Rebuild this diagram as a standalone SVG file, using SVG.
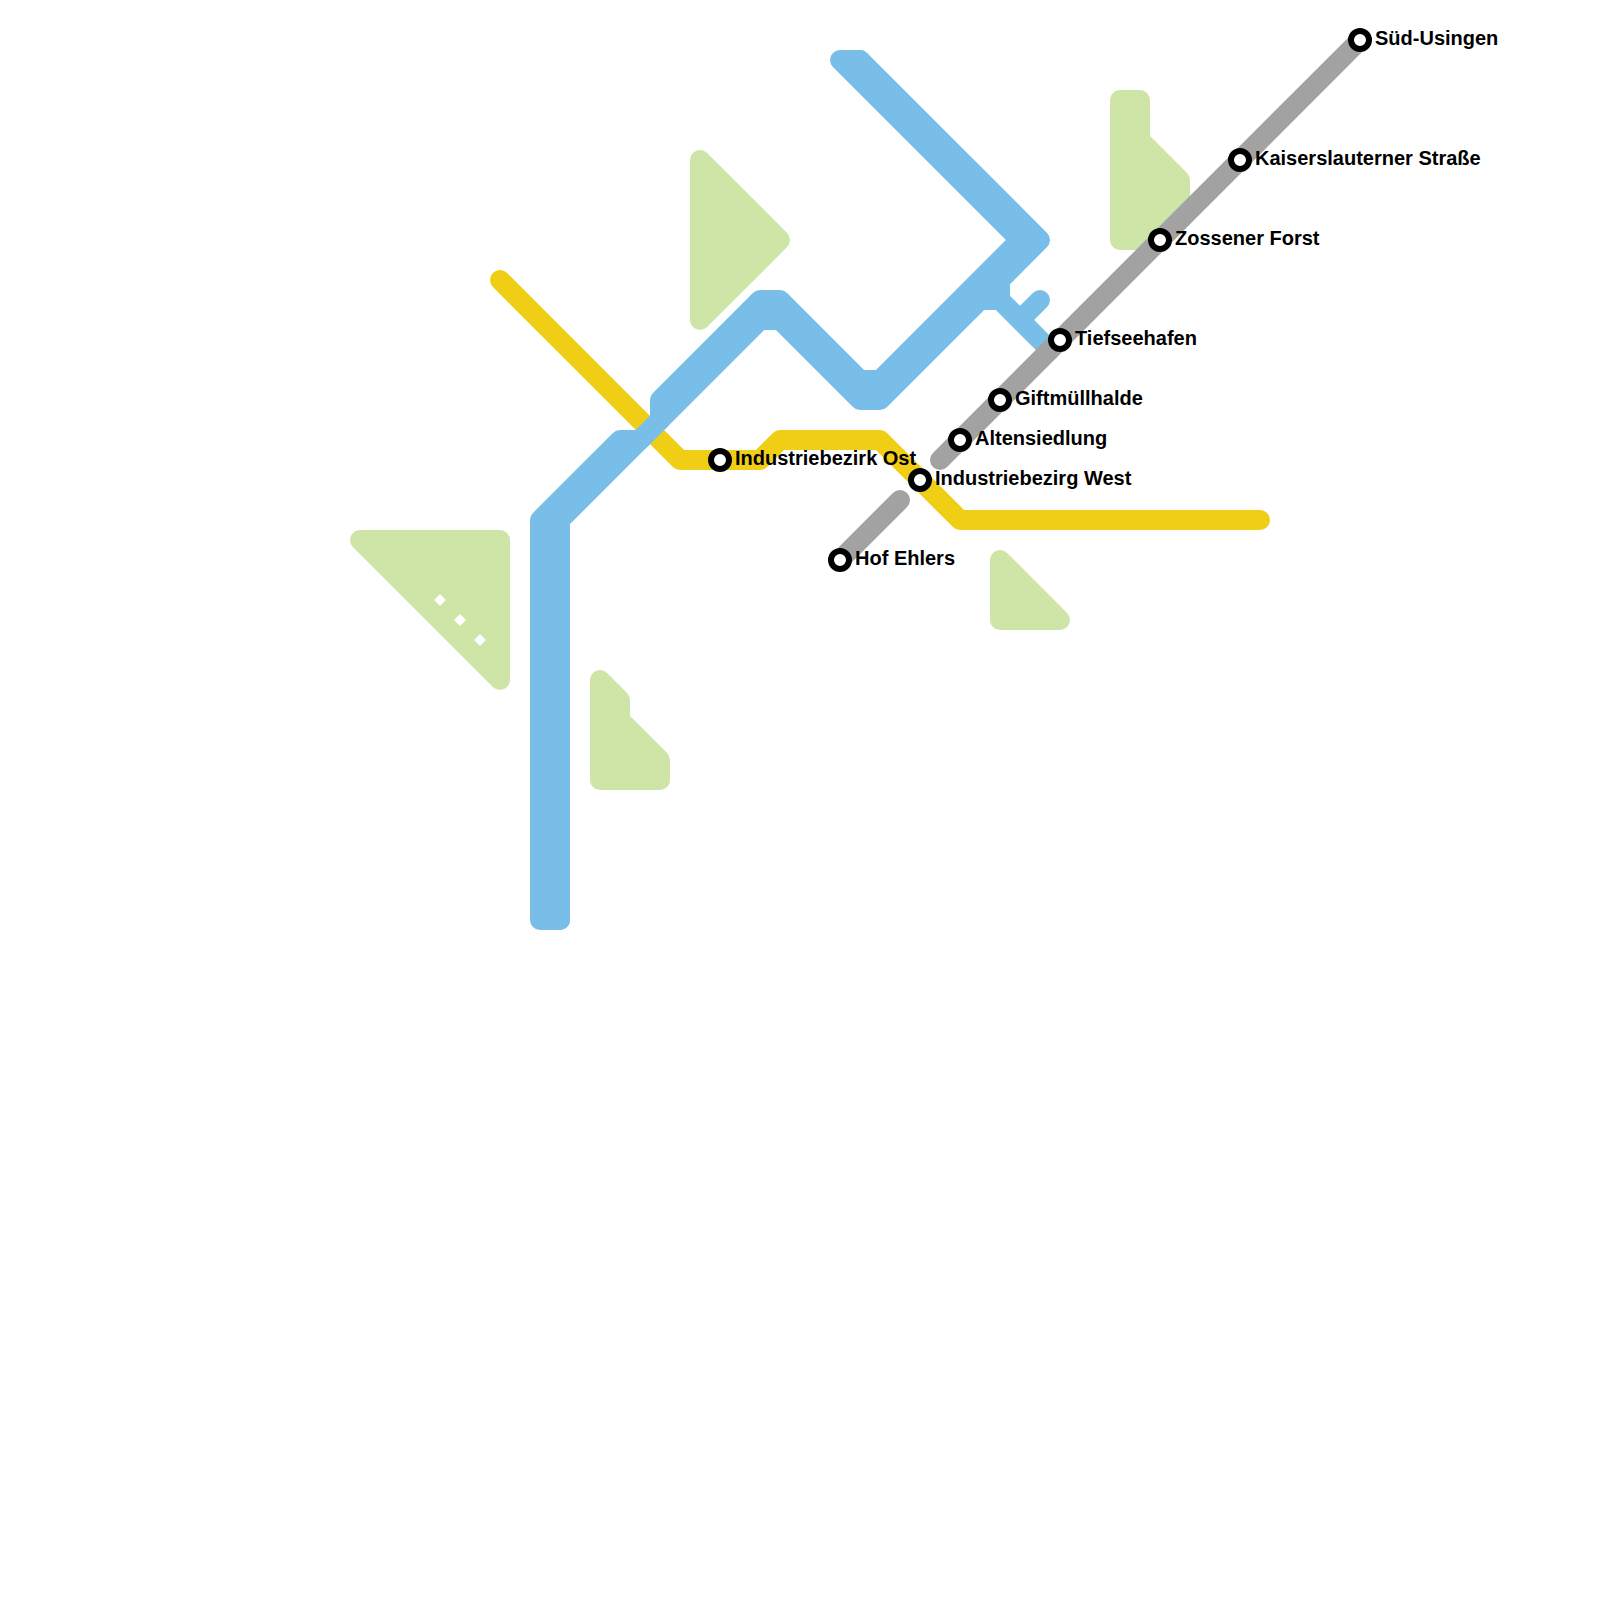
<svg xmlns="http://www.w3.org/2000/svg" width="1600" height="1600" viewBox="0 0 1600 1600">
<style>
.area{fill:#cfe4a7;stroke:#cfe4a7;stroke-width:20;stroke-linejoin:round}
.line{fill:none;stroke-width:20;stroke-linecap:round;stroke-linejoin:round}
.y{stroke:#f0ce15}.b{stroke:#79bde9}.g{stroke:#a2a2a2}
.st{fill:#fff;stroke:#000;stroke-width:6}
.lb{font-family:"Liberation Sans",Arial,sans-serif;font-weight:700;font-size:20px;fill:#000}
</style>
<rect width="1600" height="1600" fill="#fff"/>
<g id="areas">
<polygon class="area" points="360,540 500,540 500,680"/>
<polygon points="440,594 446,600 440,606 434,600" fill="#fff"/>
<polygon points="460,614 466,620 460,626 454,620" fill="#fff"/>
<polygon points="480,634 486,640 480,646 474,640" fill="#fff"/>
<polygon class="area" points="600,680 620,700 620,720 660,760 660,780 600,780"/>
<polygon class="area" points="700,160 780,240 700,320"/>
<polygon class="area" points="1120,100 1140,100 1140,140 1180,180 1180,220 1160,240 1120,240"/>
<polygon class="area" points="1000,560 1060,620 1000,620"/>
</g>
<g id="connectors">
<path class="line y" d="M500,280L680,460H760L780,440H880L960,520H1260"/>
<path class="line b" d="M560,920H540V520L620,440H640L660,420V400L760,300H780L860,380H880L1020,240L840,60H860"/>
<path class="line b" d="M560,920V520L760,320H780L860,400H880L1040,240L860,60"/>
<path class="line b" d="M1000,280V300L1050,350M980,300H1000M1040,300L1020,320"/>
<path class="line g" d="M940,460L1360,40"/>
<path class="line g" d="M840,560L900,500"/>
</g>
<g id="n1"><circle class="st" cx="1360" cy="40" r="9"/><text class="lb" x="1375" y="45">Süd-Usingen</text></g>
<g id="n2"><circle class="st" cx="1240" cy="160" r="9"/><text class="lb" x="1255" y="165">Kaiserslauterner Straße</text></g>
<g id="n3"><circle class="st" cx="1160" cy="240" r="9"/><text class="lb" x="1175" y="245">Zossener Forst</text></g>
<g id="n4"><circle class="st" cx="1060" cy="340" r="9"/><text class="lb" x="1075" y="345">Tiefseehafen</text></g>
<g id="n5"><circle class="st" cx="1000" cy="400" r="9"/><text class="lb" x="1015" y="405">Giftmüllhalde</text></g>
<g id="n6"><circle class="st" cx="960" cy="440" r="9"/><text class="lb" x="975" y="445">Altensiedlung</text></g>
<g id="n7"><circle class="st" cx="920" cy="480" r="9"/><text class="lb" x="935" y="485">Industriebezirg West</text></g>
<g id="n8"><circle class="st" cx="840" cy="560" r="9"/><text class="lb" x="855" y="565">Hof Ehlers</text></g>
<g id="n9"><circle class="st" cx="720" cy="460" r="9"/><text class="lb" x="735" y="465">Industriebezirk Ost</text></g>
</svg>
